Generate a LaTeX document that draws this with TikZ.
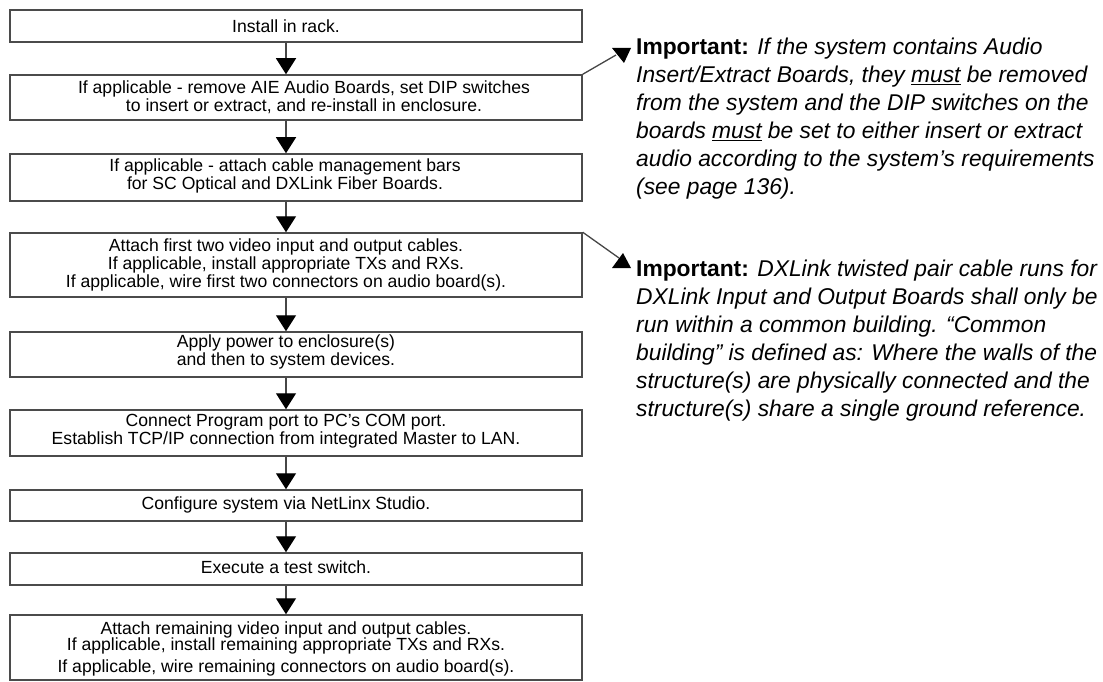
\documentclass[tikz,border=0pt]{standalone}
\usepackage{fontspec}
\setmainfont{Liberation Sans}
\usetikzlibrary{arrows.meta}
\definecolor{boxgray}{RGB}{75,75,75}
\definecolor{linegray}{RGB}{70,70,70}
\begin{document}
\begin{tikzpicture}[x=1pt,y=-1pt,
  box/.style={draw=boxgray, line width=1.5pt, minimum width=572pt, inner sep=0pt},
  btxt/.style={font=\fontsize{17.6}{18}\selectfont, align=center, inner sep=0pt},
  flow/.style={draw=linegray, line width=1.3pt, -{Triangle[width=20pt,length=16pt,color=black]}},
  note/.style={font=\fontsize{22.8}{28}\selectfont\itshape, align=left, anchor=north west, inner sep=0pt},
  callout/.style={draw=linegray, line width=1.3pt},
  head/.style={fill=black}]
\fill[white] (0,0) rectangle (1103,682);
\useasboundingbox (0,0) rectangle (1103,682);

\coordinate (ax) at (286,0);

\node[box, minimum height=32pt] (b1) at (296,26) {};
\node[box, minimum height=45pt] (b2) at (296,97.5) {};
\node[box, minimum height=47pt] (b3) at (296,177.5) {};
\node[box, minimum height=64pt] (b4) at (296,265) {};
\node[box, minimum height=45pt] (b5) at (296,354.5) {};
\node[box, minimum height=46pt] (b6) at (296,433) {};
\node[box, minimum height=31pt] (b7) at (296,505.5) {};
\node[box, minimum height=32pt] (b8) at (296,569) {};
\node[box, minimum height=65pt] (b9) at (296,647.5) {};

\node[btxt] (t1) at (286,26) {Install in rack.};
\node[btxt] (t2) at (304,97.5) {If applicable - remove AIE Audio Boards, set DIP switches\\to insert or extract, and re-install in enclosure.};
\node[btxt] (t3) at (285,176) {If applicable - attach cable management bars\\for SC Optical and DXLink Fiber Boards.};
\node[btxt] (t4) at (286,265) {Attach first two video input and output cables.\\If applicable, install appropriate TXs and RXs.\\If applicable, wire first two connectors on audio board(s).};
\node[btxt] (t5) at (286,351.5) {Apply power to enclosure(s)\\and then to system devices.};
\node[btxt] (t6) at (286,431.5) {Connect Program port to PC's COM port.\\Establish TCP/IP connection from integrated Master to LAN.};
\node[btxt] (t7) at (286,505) {Configure system via NetLinx Studio.};
\node[btxt] (t8) at (286,567) {Execute a test switch.};
\node[btxt] (t9) at (286,649) {Attach remaining video input and output cables.\\[-2pt]If applicable, install remaining appropriate TXs and RXs.\\[4pt]If applicable, wire remaining connectors on audio board(s).};

\draw[flow] (b1.south -| ax) -- (b2.north -| ax);
\draw[flow] (b2.south -| ax) -- (b3.north -| ax);
\draw[flow] (b3.south -| ax) -- (b4.north -| ax);
\draw[flow] (b4.south -| ax) -- (b5.north -| ax);
\draw[flow] (b5.south -| ax) -- (b6.north -| ax);
\draw[flow] (b6.south -| ax) -- (b7.north -| ax);
\draw[flow] (b7.south -| ax) -- (b8.north -| ax);
\draw[flow] (b8.south -| ax) -- (b9.north -| ax);

\node[note] (n1) at (636,37.5) {{\upshape\bfseries Important:} If the system contains Audio\\Insert/Extract Boards, they \underline{must} be removed\\from the system and the DIP switches on the\\boards \underline{must} be set to either insert or extract\\audio according to the system’s requirements\\(see page 136).};
\node[note] (n2) at (636,259.5) {{\upshape\bfseries Important:} DXLink twisted pair cable runs for\\DXLink Input and Output Boards shall only be\\run within a common building. “Common\\building” is defined as: Where the walls of the\\structure(s) are physically connected and the\\structure(s) share a single ground reference.};

\coordinate (h1) at (616,55);
\coordinate (h2) at (619,258);
\draw[callout] (b2.north east) -- (h1);
\fill[head] (612,48) -- (631,48) -- (624,63) -- cycle;
\draw[callout] (b4.north east) -- (h2);
\fill[head] (612,268) -- (631,268) -- (623,253) -- cycle;
\end{tikzpicture}
\end{document}
